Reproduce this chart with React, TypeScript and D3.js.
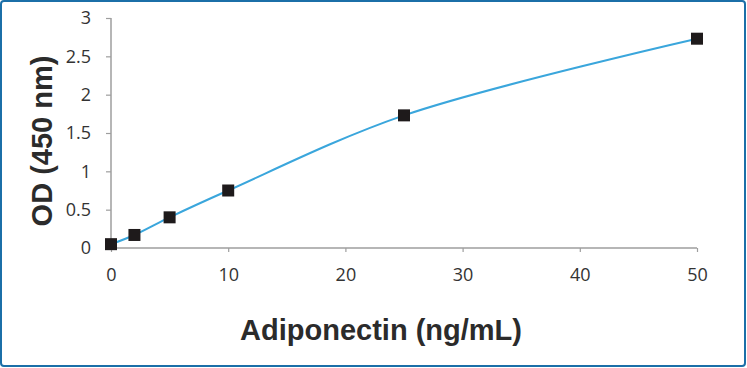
import React, { useEffect, useRef } from "react";
import * as d3 from "d3";

// standard curve readings
const concentrations = [0, 2, 5, 10, 25, 50];
const odValues = [0.05, 0.17, 0.4, 0.75, 1.73, 2.73];
const xTicks = [0, 10, 20, 30, 40, 50];
const yTicks = [0, 0.5, 1, 1.5, 2, 2.5, 3];

const App = () => {
  const ref = useRef<SVGSVGElement>(null);

  useEffect(() => {
    const width = 747;
    const height = 368;
    const svg = d3.select(ref.current);
    svg.selectAll("*").remove();

    // outer frame
    svg
      .append("rect")
      .attr("x", 1)
      .attr("y", 1)
      .attr("width", width - 3)
      .attr("height", height - 3)
      .attr("rx", 3)
      .attr("fill", "#fff")
      .attr("stroke", "#1b6fa8")
      .attr("stroke-width", 2);

    const x = d3.scaleLinear().domain([0, 50]).range([111, 697]);
    const y = d3.scaleLinear().domain([0, 3]).range([248, 18]);
    const axisColor = "#9e9e9e";
    const tickFont = "'Open Sans', 'DejaVu Sans', sans-serif";

    // y axis
    const gy = svg
      .append("g")
      .attr("transform", `translate(${x(0)},0)`)
      .call(d3.axisLeft(y).tickValues(yTicks).tickSize(5).tickPadding(15).tickFormat(d3.format("")));
    gy.attr("font-size", null).attr("font-family", null);
    gy.select(".domain").attr("stroke", axisColor).attr("stroke-width", 1.5).attr("d", `M0,${y(3)}V${y(0)}`);
    gy.selectAll(".tick line").attr("stroke", axisColor).attr("stroke-width", 1.2);
    gy.selectAll(".tick text")
      .attr("fill", "#333")
      .style("font-family", tickFont)
      .style("font-size", "18px");

    // x axis
    const gx = svg
      .append("g")
      .attr("transform", `translate(0,${y(0)})`)
      .call(d3.axisBottom(x).tickValues(xTicks).tickSize(4).tickPadding(16).tickFormat(d3.format("")));
    gx.attr("font-size", null).attr("font-family", null);
    gx.select(".domain").attr("stroke", axisColor).attr("stroke-width", 1.5).attr("d", `M${x(0)},0H${x(50)}`);
    gx.selectAll(".tick line").attr("stroke", axisColor).attr("stroke-width", 1.2);
    gx.selectAll(".tick text")
      .attr("fill", "#333")
      .style("font-family", tickFont)
      .style("font-size", "18px");

    const pts: [number, number][] = concentrations.map((c, i) => [c, odValues[i]]);

    const line = d3
      .line<[number, number]>()
      .x((d) => x(d[0]))
      .y((d) => y(d[1]))
      .curve(d3.curveCatmullRom.alpha(0.5));

    svg
      .append("path")
      .datum(pts)
      .attr("d", line)
      .attr("fill", "none")
      .attr("stroke", "#3aa6dc")
      .attr("stroke-width", 2);

    const s = 12;
    svg
      .selectAll("rect.pt")
      .data(pts)
      .enter()
      .append("rect")
      .attr("class", "pt")
      .attr("x", (d) => x(d[0]) - s / 2)
      .attr("y", (d) => y(d[1]) - s / 2)
      .attr("width", s)
      .attr("height", s)
      .attr("fill", "#1e1a1b");

    // axis titles
    const titleFont = "'Liberation Sans', Arial, sans-serif";
    svg
      .append("text")
      .attr("x", 381)
      .attr("y", 340)
      .attr("text-anchor", "middle")
      .style("font-family", titleFont)
      .style("font-weight", "bold")
      .style("font-size", "29px")
      .attr("fill", "#2b2b2b")
      .text("Adiponectin (ng/mL)");

    svg
      .append("text")
      .attr("transform", "translate(52,141) rotate(-90)")
      .attr("text-anchor", "middle")
      .style("font-family", titleFont)
      .style("font-weight", "bold")
      .style("font-size", "29px")
      .attr("fill", "#2b2b2b")
      .text("OD (450 nm)");
  }, []);

  return (
    <svg
      ref={ref}
      width={747}
      height={368}
      style={{ position: "absolute", left: 0, top: 0, display: "block" }}
    />
  );
};

export default App;
